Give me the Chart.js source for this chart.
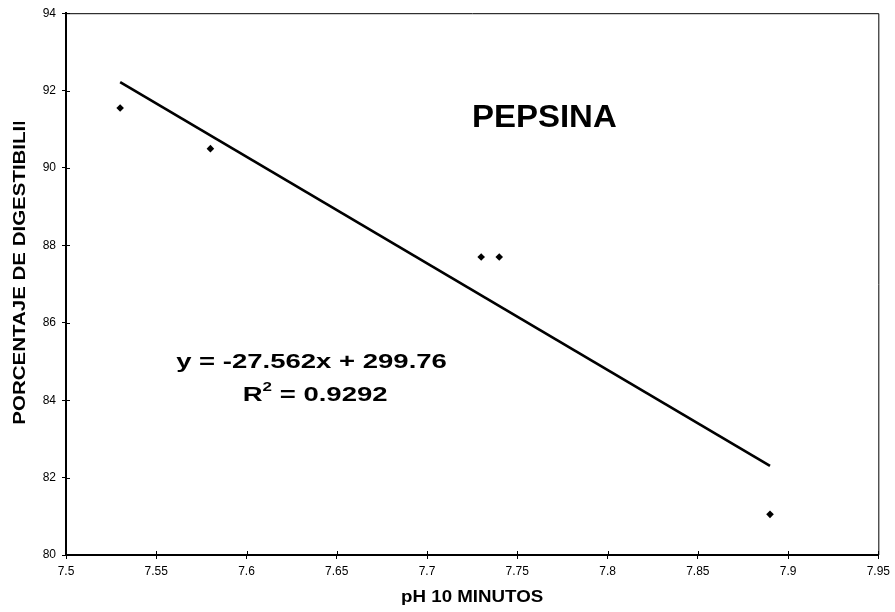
<!DOCTYPE html>
<html>
<head>
<meta charset="utf-8">
<script src="https://cdn.jsdelivr.net/npm/chart.js@4/dist/chart.umd.min.js"></script>
<style>
  body { margin: 0; background: #fff; }
</style>
</head>
<body>
<canvas id="chart" width="895" height="612"></canvas>
<script>
// data
const phValues = [7.53, 7.58, 7.73, 7.74, 7.89];
const digestibility = [91.55, 90.5, 87.7, 87.7, 81.05];
// trend line end points
const trendX = [7.53, 7.89];
const trendY = [92.22, 82.3];
const xTicks = [7.5, 7.55, 7.6, 7.65, 7.7, 7.75, 7.8, 7.85, 7.9, 7.95];
const yTicks = [80, 82, 84, 86, 88, 90, 92, 94];

const FONT = "'Liberation Sans', Arial, sans-serif";

// draw text stretched horizontally like the original export
function drawText(ctx, text, x, y, size, sx, rotate) {
  ctx.save();
  ctx.translate(x, y);
  if (rotate) ctx.rotate(-Math.PI / 2);
  ctx.scale(sx, 1);
  ctx.font = "bold " + size + "px " + FONT;
  ctx.fillStyle = "#000";
  ctx.textAlign = "center";
  ctx.textBaseline = "middle";
  ctx.fillText(text, 0, 0);
  ctx.restore();
}

const extras = {
  id: "extras",
  afterDraw(chart) {
    const ctx = chart.ctx;
    const a = chart.chartArea;
    const xs = chart.scales.x;
    const ys = chart.scales.y;

    // frame top and right
    ctx.save();
    ctx.strokeStyle = "#000";
    ctx.lineWidth = 1;
    ctx.beginPath();
    ctx.moveTo(a.left, a.top + 0.5);
    ctx.lineTo(a.right + 0.5, a.top + 0.5);
    ctx.lineTo(a.right + 0.5, a.bottom);
    ctx.stroke();

    // inner half of the crossing ticks
    ctx.beginPath();
    xTicks.forEach(v => {
      const px = Math.round(xs.getPixelForValue(v)) + 0.5;
      ctx.moveTo(px, a.bottom);
      ctx.lineTo(px, a.bottom - 4);
    });
    yTicks.forEach(v => {
      const py = Math.round(ys.getPixelForValue(v)) + 0.5;
      ctx.moveTo(a.left, py);
      ctx.lineTo(a.left + 4, py);
    });
    ctx.stroke();
    ctx.restore();

    // titles
    drawText(ctx, "PEPSINA", xs.getPixelForValue(7.765), ys.getPixelForValue(91.28), 32, 1.03, false);
    drawText(ctx, "pH 10 MINUTOS", (a.left + a.right) / 2, 598, 16, 1.17, false);

    // y title, cut at the top like the original
    ctx.save();
    ctx.beginPath();
    ctx.rect(0, 122, 60, 612);
    ctx.clip();
    drawText(ctx, "PORCENTAJE DE DIGESTIBILIDAD", 21, 253, 16, 1.28, true);
    ctx.restore();

    // equation
    drawText(ctx, "y = -27.562x + 299.76", xs.getPixelForValue(7.636), ys.getPixelForValue(84.99), 21, 1.31, false);

    // R squared with superscript
    const cx = xs.getPixelForValue(7.638);
    const cy = ys.getPixelForValue(84.13);
    const parts = [
      { t: "R", s: 21, dy: 0 },
      { t: "2", s: 13, dy: -8 },
      { t: " = 0.9292", s: 21, dy: 0 }
    ];
    ctx.save();
    ctx.translate(cx, cy);
    ctx.scale(1.31, 1);
    ctx.fillStyle = "#000";
    ctx.textBaseline = "middle";
    ctx.textAlign = "left";
    let total = 0;
    parts.forEach(p => {
      ctx.font = "bold " + p.s + "px " + FONT;
      p.w = ctx.measureText(p.t).width;
      total += p.w;
    });
    let x = -total / 2;
    parts.forEach(p => {
      ctx.font = "bold " + p.s + "px " + FONT;
      ctx.fillText(p.t, x, p.dy);
      x += p.w;
    });
    ctx.restore();
  }
};

new Chart(document.getElementById("chart"), {
  type: "scatter",
  data: {
    datasets: [
      {
        data: phValues.map((v, i) => ({ x: v, y: digestibility[i] })),
        pointStyle: "rectRot",
        pointRadius: 3.8,
        backgroundColor: "#000",
        borderColor: "#000",
        borderWidth: 0
      },
      {
        data: trendX.map((v, i) => ({ x: v, y: trendY[i] })),
        showLine: true,
        pointRadius: 0,
        borderColor: "#000",
        borderWidth: 2.6
      }
    ]
  },
  options: {
    responsive: false,
    animation: false,
    layout: { padding: { left: 0, right: 16, top: 13, bottom: 0 } },
    plugins: {
      legend: { display: false },
      tooltip: { enabled: false }
    },
    scales: {
      x: {
        type: "linear",
        min: 7.5,
        max: 7.95,
        afterBuildTicks: s => { s.ticks = xTicks.map(v => ({ value: v })); },
        afterFit: s => { s.height = 57; },
        ticks: {
          color: "#000",
          font: { family: FONT, size: 12 },
          padding: 5,
          maxRotation: 0,
          autoSkip: false,
          callback: v => String(+v.toFixed(2))
        },
        grid: { drawOnChartArea: false, drawTicks: true, tickLength: 4, color: "#000" },
        border: { color: "#000", width: 2 }
      },
      y: {
        min: 80,
        max: 94,
        afterBuildTicks: s => { s.ticks = yTicks.map(v => ({ value: v })); },
        afterFit: s => { s.width = 66; },
        ticks: {
          color: "#000",
          font: { family: FONT, size: 12 },
          padding: 6,
          callback: v => String(v)
        },
        grid: { drawOnChartArea: false, drawTicks: true, tickLength: 4, color: "#000" },
        border: { color: "#000", width: 2 }
      }
    }
  },
  plugins: [extras]
});
</script>
</body>
</html>
